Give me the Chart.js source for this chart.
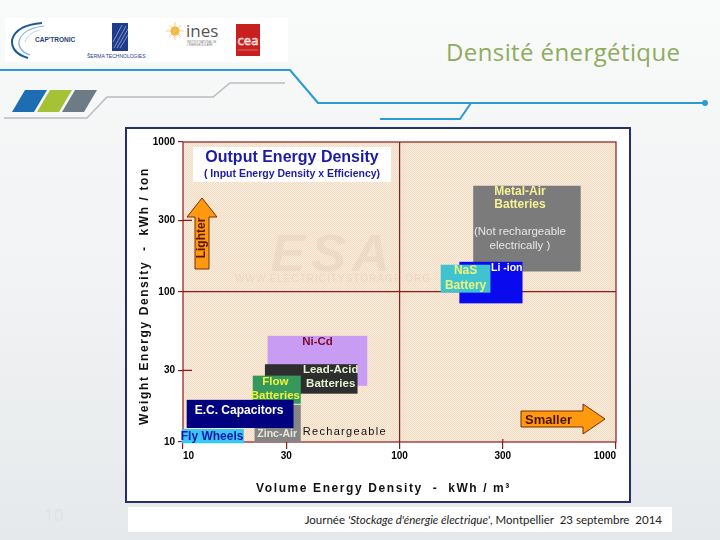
<!DOCTYPE html>
<html>
<head>
<meta charset="utf-8">
<script src="https://cdn.jsdelivr.net/npm/chart.js@4.4.1/dist/chart.umd.min.js"></script>
<style>
  html, body { margin: 0; padding: 0; }
  body {
    width: 720px; height: 540px; position: relative; overflow: hidden;
    background: linear-gradient(180deg, #f9fafa 0%, #f0f2f3 55%, #e6e9eb 100%);
    font-family: 'Open Sans', sans-serif;
  }
  #deco { position: absolute; left: 0; top: 0; }
  #title {
    position: absolute; left: 446px; top: 36px; font-size: 24px; line-height: 32px;
    letter-spacing: 0.4px; color: #8fac5d; white-space: nowrap;
  }
  #frame {
    position: absolute; left: 125px; top: 127px; width: 502px; height: 372px;
    border: 2px solid #262f6e; background: #fff;
  }
  #frame canvas { display: block; }
  #footer {
    position: absolute; left: 128px; top: 507px; width: 544px; height: 25px;
    background: #fff; font-family: Lato, sans-serif; font-size: 11.5px; line-height: 25px;
    text-align: right; color: #222; white-space: nowrap;
  }
  #footer span { padding-right: 10px; }
  #page { position: absolute; left: 44px; top: 503px; font-size: 17px; color: #dde3e8; }
</style>
</head>
<body>

<svg id="deco" width="720" height="130">
  <rect x="5" y="18" width="283" height="44" fill="#fff"/>
  <!-- CAP'TRONIC -->
  <path d="M42 23 Q16 25 12 40 Q11 53 28 58" stroke="#1f5a98" stroke-width="2" fill="none"/>
  <path d="M44 26 Q22 29 19 41 Q18 51 30 55" stroke="#7fb6dc" stroke-width="1.2" fill="none"/>
  <path d="M40 30 Q27 33 25 42" stroke="#b9d6ea" stroke-width="1" fill="none"/>
  <text x="35" y="42" font-family="Liberation Sans" font-weight="bold" font-size="6.5" fill="#1f3f7a">CAP'TRONIC</text>
  <!-- SERMA -->
  <rect x="112" y="23" width="16" height="28" fill="#1e3c8c"/>
  <path d="M114 48 L126 26 M117 48 L128 29 M120 48 L128 35 M113 42 L122 25" stroke="#aab8dd" stroke-width="0.7"/>
  <text x="87" y="58" font-family="Liberation Sans" font-size="5" fill="#1e3c8c">ŠERMA TECHNOLOGIES</text>
  <!-- ines -->
  <circle cx="175" cy="31" r="4.5" fill="#f3b23a"/>
  <path d="M175 22 L175 40 M166 31 L184 31 M169 25 L181 37 M181 25 L169 37" stroke="#f6c560" stroke-width="0.8"/>
  <text x="186" y="37" font-family="Open Sans" font-size="17" fill="#555">ines</text>
  <text x="187" y="43" font-family="Liberation Sans" font-size="2.6" fill="#777">INSTITUT NATIONAL DE</text>
  <text x="187" y="46" font-family="Liberation Sans" font-size="2.6" fill="#777">L'ÉNERGIE SOLAIRE</text>
  <!-- cea -->
  <rect x="236" y="24" width="24" height="32" fill="#c8201e"/>
  <text x="248" y="45" text-anchor="middle" font-family="Open Sans" font-size="13" fill="none" stroke="#fff" stroke-width="0.6">cea</text>
  <line x1="238" y1="50" x2="258" y2="50" stroke="#f0a0a0" stroke-width="0.6"/>
  <!-- lines -->
  <polyline points="0,70 290,70 318,103 704,103" fill="none" stroke="#2b9ad6" stroke-width="2.2"/>
  <circle cx="705" cy="103" r="3" fill="#2b9ad6"/>
  <polyline points="380,119 460,119 471,103" fill="none" stroke="#2b9ad6" stroke-width="2"/>
  <polyline points="4,118 87,118 107,97 213,97 230,83 285,83" fill="none" stroke="#b8bdc1" stroke-width="1.5"/>
  <!-- stripes -->
  <polygon points="12,112 25,90 47,90 34,112" fill="#1d6db2"/>
  <polygon points="37,112 50,90 72,90 59,112" fill="#a5c135"/>
  <polygon points="62,112 75,90 97,90 84,112" fill="#6c7b85"/>
</svg>

<div id="title">Densité énergétique</div>

<div id="frame"><canvas id="chart" width="502" height="372"></canvas></div>

<div id="page">10</div>
<div id="footer"><span>Journée <i>'Stockage d'énergie électrique'</i>, Montpellier&nbsp; 23 septembre&nbsp; 2014</span></div>

<script>
(function () {
  /* ---- Data ---- */
  var TECH = ['Metal-Air Batteries', 'Li-ion', 'NaS Battery', 'Ni-Cd', 'Lead-Acid Batteries',
              'Flow Batteries', 'Zinc-Air', 'E.C. Capacitors', 'Fly Wheels'];
  var VOL_MIN = [219, 189, 155, 24.6, 23.9, 21, 21.4, 10.4, 9.85];   // kWh / m3
  var VOL_MAX = [687, 370, 263, 71, 64, 35, 35, 32.4, 19.1];
  var WT_MIN = [137, 84, 99, 23.7, 21, 18, 10, 12.4, 9.8];           // kWh / ton
  var WT_MAX = [511, 159, 152, 51, 33, 27.7, 17.7, 19.1, 12.2];
  var X_TICKS = [10, 30, 100, 300, 1000];
  var Y_TICKS = [10, 30, 100, 300, 1000];

  /* ---- Styles ---- */
  var RED = '#8b1c1c';
  var FONT = "'Liberation Sans', Arial, sans-serif";
  var BOX_COLORS = ['#7b7b7b', '#0a0aee', '#3ec3cf', '#c99cf4', '#2e2e2e',
                    '#36985c', '#858585', '#000080', '#38c8f4'];
  var LABELS = [['Metal-Air', 'Batteries'], ['Li -ion'], ['NaS', 'Battery'], ['Ni-Cd'],
                ['Lead-Acid', 'Batteries'], ['Flow', 'Batteries'], ['Zinc-Air'],
                ['E.C. Capacitors'], ['Fly Wheels']];
  var LABEL_STYLE = [
    { fx: 0.435, fy: 0.07, lh: 13, color: '#f6f291', size: 12 },
    { fx: 0.75, fy: 0.14, lh: 13, color: '#ffffff', size: 10.5 },
    { fx: 0.5, fy: 0.2, lh: 15.5, color: '#eef27a', size: 12 },
    { fx: 0.5, fy: 0.11, lh: 13, color: '#7a0a2a', size: 11.5 },
    { fx: 0.71, fy: 0.2, lh: 14, color: '#dff3cf', size: 11.5 },
    { fx: 0.47, fy: 0.23, lh: 14, color: '#f2f23a', size: 11.5 },
    { fx: 0.49, fy: 0.8, lh: 13, color: '#e6e6d6', size: 10.5 },
    { fx: 0.49, fy: 0.38, lh: 13, color: '#ffffff', size: 12 },
    { fx: 0.49, fy: 0.56, lh: 13, color: '#1414a8', size: 12 }
  ];

  function hatch(ctx) {
    var c = document.createElement('canvas');
    c.width = 2; c.height = 2;
    var g = c.getContext('2d');
    g.fillStyle = '#fbeedf'; g.fillRect(0, 0, 2, 2);
    g.fillStyle = '#f0dbc2'; g.fillRect(0, 0, 1, 1); g.fillRect(1, 1, 1, 1);
    return ctx.createPattern(c, 'repeat');
  }

  function text(ctx, s, x, y, font, color, align, spacing) {
    ctx.font = font;
    ctx.fillStyle = color;
    ctx.textAlign = align || 'center';
    ctx.textBaseline = 'middle';
    ctx.letterSpacing = spacing || '0px';
    ctx.fillText(s, x, y);
    ctx.letterSpacing = '0px';
  }

  var boxesPlugin = {
    id: 'boxes',
    beforeDraw: function (chart) {
      var a = chart.chartArea, ctx = chart.ctx;
      ctx.save();
      ctx.fillStyle = hatch(ctx);
      ctx.fillRect(a.left, a.top, a.right - a.left, a.bottom - a.top);
      ctx.restore();
    },
    beforeDatasetsDraw: function (chart) {
      var a = chart.chartArea, ctx = chart.ctx;
      var xs = chart.scales.x, ys = chart.scales.y;
      ctx.save();

      /* faint watermark */
      text(ctx, 'ESA', a.left + 150, a.top + 115, "italic bold 52px " + FONT, 'rgba(170,150,130,0.12)', 'center', '6px');
      text(ctx, 'WWW.ELECTRICITYSTORAGE.ORG', a.left + 150, a.top + 137, "10px " + FONT, 'rgba(170,150,130,0.16)', 'center', '1px');

      /* plot border and inner tick marks */
      ctx.strokeStyle = RED; ctx.lineWidth = 1.2;
      ctx.strokeRect(a.left, a.top, a.right - a.left, a.bottom - a.top);
      ctx.beginPath();
      [30, 300].forEach(function (v) {
        var px = xs.getPixelForValue(v), py = ys.getPixelForValue(v);
        ctx.moveTo(px, a.bottom); ctx.lineTo(px, a.bottom - 3);
        ctx.moveTo(a.left, py); ctx.lineTo(a.left + 9, py);
      });
      ctx.stroke();

      /* energy boxes */
      for (var i = 0; i < TECH.length; i++) {
        var x0 = xs.getPixelForValue(VOL_MIN[i]), x1 = xs.getPixelForValue(VOL_MAX[i]);
        var y0 = ys.getPixelForValue(WT_MAX[i]), y1 = ys.getPixelForValue(WT_MIN[i]);
        ctx.fillStyle = BOX_COLORS[i];
        ctx.fillRect(x0, y0, x1 - x0, y1 - y0);
        var st = LABEL_STYLE[i];
        var cx = x0 + (x1 - x0) * st.fx, cy = y0 + (y1 - y0) * st.fy;
        LABELS[i].forEach(function (s, k) {
          text(ctx, s, cx, cy + k * st.lh, 'bold ' + st.size + 'px ' + FONT, st.color);
        });
        if (i === 0) {
          var cy2 = y0 + (y1 - y0) * 0.54;
          text(ctx, '(Not rechargeable', cx, cy2, '11.5px ' + FONT, '#e6e6e6');
          text(ctx, 'electrically )', cx, cy2 + 14, '11.5px ' + FONT, '#e6e6e6');
        }
        if (i === 6) {
          text(ctx, 'Rechargeable', x1 + 2, y0 + (y1 - y0) * 0.74, '11px ' + FONT, '#111', 'left', '1.3px');
        }
      }

      /* title box */
      ctx.fillStyle = '#fff';
      ctx.fillRect(a.left + 10, a.top + 5, 198, 35);
      text(ctx, 'Output Energy Density', a.left + 109, a.top + 16, 'bold 16px ' + FONT, '#1b1ba6');
      text(ctx, '( Input Energy Density x Efficiency)', a.left + 109, a.top + 32, 'bold 10.5px ' + FONT, '#1b1ba6');

      /* Lighter arrow */
      var lx = a.left + 19;
      ctx.beginPath();
      ctx.moveTo(lx, a.top + 56);
      ctx.lineTo(lx + 15, a.top + 75);
      ctx.lineTo(lx + 7, a.top + 75);
      ctx.lineTo(lx + 7, a.top + 127);
      ctx.lineTo(lx - 7, a.top + 127);
      ctx.lineTo(lx - 7, a.top + 75);
      ctx.lineTo(lx - 15, a.top + 75);
      ctx.closePath();
      ctx.fillStyle = '#ff9a10'; ctx.fill();
      ctx.strokeStyle = '#7a2d00'; ctx.lineWidth = 1; ctx.stroke();
      ctx.save();
      ctx.translate(lx, a.top + 96);
      ctx.rotate(-Math.PI / 2);
      text(ctx, 'Lighter', 0, 0, 'bold 12px ' + FONT, '#5a1500');
      ctx.restore();

      /* Smaller arrow */
      var sy = a.top + 277;
      ctx.beginPath();
      ctx.moveTo(a.right - 11, sy);
      ctx.lineTo(a.right - 33, sy - 15);
      ctx.lineTo(a.right - 33, sy - 8);
      ctx.lineTo(a.right - 95, sy - 8);
      ctx.lineTo(a.right - 95, sy + 8);
      ctx.lineTo(a.right - 33, sy + 8);
      ctx.lineTo(a.right - 33, sy + 15);
      ctx.closePath();
      ctx.fillStyle = '#ff9a10'; ctx.fill();
      ctx.strokeStyle = '#7a2d00'; ctx.stroke();
      text(ctx, 'Smaller', a.right - 91, sy + 1, 'bold 13px ' + FONT, '#4a1200', 'left');

      ctx.restore();
    },
    afterDraw: function (chart) {
      var a = chart.chartArea, ctx = chart.ctx;
      ctx.save();
      text(ctx, 'Volume Energy Density  -  kWh / m\u00b3', (a.left + a.right) / 2 - 16, a.bottom + 47,
        'bold 12px ' + FONT, '#111', 'center', '1.6px');
      ctx.translate(18, (a.top + a.bottom) / 2 + 4);
      ctx.rotate(-Math.PI / 2);
      text(ctx, 'Weight Energy Density  -  kWh / ton', 0, 0, 'bold 12px ' + FONT, '#111', 'center', '1.6px');
      ctx.restore();
    }
  };

  function gridColor(c) {
    return c.tick && c.tick.value === 100 ? RED : 'rgba(0,0,0,0)';
  }

  new Chart(document.getElementById('chart'), {
    type: 'scatter',
    data: { datasets: [{ data: [], pointRadius: 0 }] },
    options: {
      responsive: false,
      animation: false,
      layout: { padding: { left: 0, top: 13, right: 13, bottom: 0 } },
      plugins: { legend: { display: false }, tooltip: { enabled: false } },
      scales: {
        x: {
          type: 'logarithmic', min: 10, max: 1000,
          afterBuildTicks: function (s) { s.ticks = X_TICKS.map(function (v) { return { value: v }; }); },
          afterFit: function (s) { s.height = 59; },
          border: { display: false },
          grid: { color: gridColor, tickColor: RED, lineWidth: 1.2, tickLength: 7 },
          ticks: {
            align: 'inner', padding: 1, color: '#000', maxRotation: 0,
            font: { family: FONT, size: 10, weight: 'bold' },
            callback: function (v) { return String(v); }
          }
        },
        y: {
          type: 'logarithmic', min: 10, max: 1000,
          afterBuildTicks: function (s) { s.ticks = Y_TICKS.map(function (v) { return { value: v }; }); },
          afterFit: function (s) { s.width = 56; },
          border: { display: false },
          grid: { color: gridColor, tickColor: RED, lineWidth: 1.2, tickLength: 5 },
          ticks: {
            padding: 3, color: '#000',
            font: { family: FONT, size: 10, weight: 'bold' },
            callback: function (v) { return String(v); }
          }
        }
      }
    },
    plugins: [boxesPlugin]
  });
})();
</script>
</body>
</html>
